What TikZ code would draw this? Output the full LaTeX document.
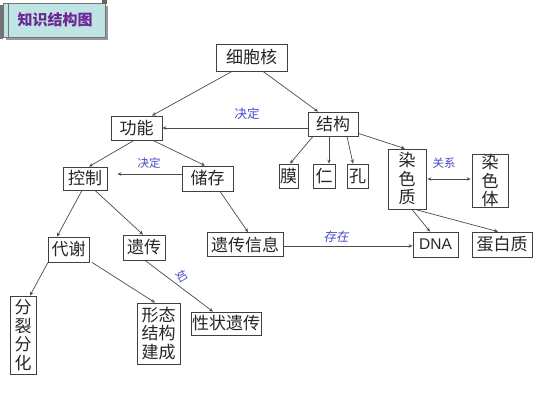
\documentclass[tikz,border=0pt]{standalone}
\usepackage{fontspec}
\setmainfont{Liberation Serif}
\newfontfamily\cjk{Noto Sans CJK SC}
\newfontfamily\cjkslant[FakeSlant=0.2]{Noto Sans CJK SC}
\newfontfamily\dnafont{Liberation Sans}
\usetikzlibrary{arrows.meta}
\definecolor{lblblue}{RGB}{72,72,200}
\definecolor{bannerfill}{RGB}{190,228,228}
\definecolor{bannertext}{RGB}{110,40,150}
\begin{document}
\begin{tikzpicture}[x=1pt,y=-1pt,
  box/.style={draw=black!75, line width=0.8pt, fill=white, inner sep=0pt,
    font=\cjk\fontsize{17}{18.5}\selectfont, text=black!85, align=center},
  conn/.style={draw=black!70, line width=0.7pt, -{Stealth[length=4pt,width=3.5pt]}},
  lbl/.style={font=\cjk\fontsize{11.5}{13}\selectfont, text=lblblue, inner sep=0pt}]
\useasboundingbox (0,0) rectangle (533,400);
\fill[white] (0,0) rectangle (533,400);
% title banner
\fill[black!40] (6,6) rectangle (108,40);
\fill[bannerfill, draw=black!55, line width=0.6pt] (3,3) rectangle (105,37);
\fill[black!55] (0,5) rectangle (3,39);
\draw[black!55, line width=0.6pt] (8,3) -- (8,37);
\fill[black!60] (102,0) rectangle (107,4);
\node[font=\cjk\bfseries\fontsize{15}{17}\selectfont, text=bannertext, inner sep=0pt] (title) at (55,20) {知识结构图};
% boxes
\node[box, minimum width=71, minimum height=27] (nuc) at (251.5,57.5) {细胞核};
\node[box, minimum width=51, minimum height=24] (func) at (136.5,128) {功能};
\node[box, minimum width=50, minimum height=24] (struc) at (333,124) {结构};
\node[box, minimum width=51, minimum height=25] (store) at (207.5,178.5) {储存};
\node[box, minimum width=44, minimum height=23] (ctrl) at (85,178.5) {控制};
\node[box, minimum width=19, minimum height=24] (mo) at (288.5,176) {膜};
\node[box, minimum width=22, minimum height=24] (ren) at (324,176) {仁};
\node[box, minimum width=21, minimum height=24] (kong) at (357.5,176) {孔};
\node[box, minimum width=38, minimum height=60] (chro) at (407,179) {染\\色\\质};
\node[box, minimum width=36, minimum height=52] (chrb) at (490,181) {染\\色\\体};
\node[box, minimum width=45, minimum height=25, font=\dnafont\fontsize{15.5}{18}\selectfont] (dna) at (435.5,244.5) {DNA};
\node[box, minimum width=60, minimum height=25] (prot) at (502,244.5) {蛋白质};
\node[box, minimum width=76, minimum height=24] (info) at (245,244.5) {遗传信息};
\node[box, minimum width=41, minimum height=25] (meta) at (68.5,249.5) {代谢};
\node[box, minimum width=42, minimum height=25] (inh) at (144,247.5) {遗传};
\node[box, minimum width=26, minimum height=78, font=\cjk\fontsize{17}{18.5}\selectfont] (fen) at (23,335) {分\\裂\\分\\化};
\node[box, minimum width=43, minimum height=61] (xing) at (158.5,333.5) {形态\\结构\\建成};
\node[box, minimum width=70, minimum height=23] (trait) at (226,323.5) {性状遗传};
% connectors
\draw[conn] ([shift={(-19.5,0)}]nuc.south) -- ([shift={(15.5,0)}]func.north);
\draw[conn] ([shift={(11.5,0)}]nuc.south) -- ([shift={(-15,0)}]struc.north);
\draw[conn] ([shift={(0,4)}]struc.west) -- (func.east);
\draw[conn] ([shift={(0,-4.5)}]store.west) -- ([shift={(10,-4.5)}]ctrl.east);
\draw[conn] ([shift={(-2.5,0)}]func.south) -- ([shift={(4,0)}]ctrl.north);
\draw[conn] ([shift={(16.5,0)}]func.south) -- ([shift={(-2.5,0)}]store.north);
\draw[conn] ([shift={(-3,0)}]ctrl.south) -- ([shift={(-11.5,0)}]meta.north);
\draw[conn] ([shift={(10,0)}]ctrl.south) -- ([shift={(-1,0)}]inh.north);
\draw[conn] ([shift={(12.5,0)}]store.south) -- ([shift={(3,0)}]info.north);
\draw[conn] ([shift={(-20,0)}]struc.south) -- ([shift={(1.5,0)}]mo.north);
\draw[conn] ([shift={(-4,0)}]struc.south) -- ([shift={(5,0)}]ren.north);
\draw[conn] ([shift={(14,0)}]struc.south) -- ([shift={(-4.5,0)}]kong.north);
\draw[conn] ([shift={(0,-3)}]struc.south east) -- ([shift={(-2,0)}]chro.north);
\draw[conn] ([shift={(5,0)}]chro.south) -- ([shift={(-5.5,0)}]dna.north);
\draw[conn] ([shift={(8,0)}]chro.south) -- ([shift={(-4,0)}]prot.north);
\draw[conn, {Stealth[length=4pt,width=3.5pt]}-{Stealth[length=4pt,width=3.5pt]}] ([shift={(1,0)}]chro.east) -- ([shift={(-1,-2)}]chrb.west);
\draw[conn] ([shift={(0,1.5)}]info.east) -- ([shift={(0,1.5)}]dna.west);
\draw[conn] ([shift={(-20.5,0)}]meta.south) -- ([shift={(7,0)}]fen.north);
\draw[conn] ([shift={(23.5,0)}]meta.south) -- ([shift={(-3.5,0)}]xing.north);
\draw[conn] ([shift={(1,0)}]inh.south) -- ([shift={(-13,0)}]trait.north);
% labels
\node[lbl, font=\cjk\fontsize{12.5}{14}\selectfont] (l1) at (247,114) {决定};
\node[lbl] (l2) at (149,163) {决定};
\node[lbl] (l3) at (444,163) {关系};
\node[lbl, font=\cjkslant\fontsize{12.5}{14}\selectfont] (l4) at (336,237) {存在};
\node[lbl, rotate=-60] (l5) at (182,276) {如};
\end{tikzpicture}
\end{document}
